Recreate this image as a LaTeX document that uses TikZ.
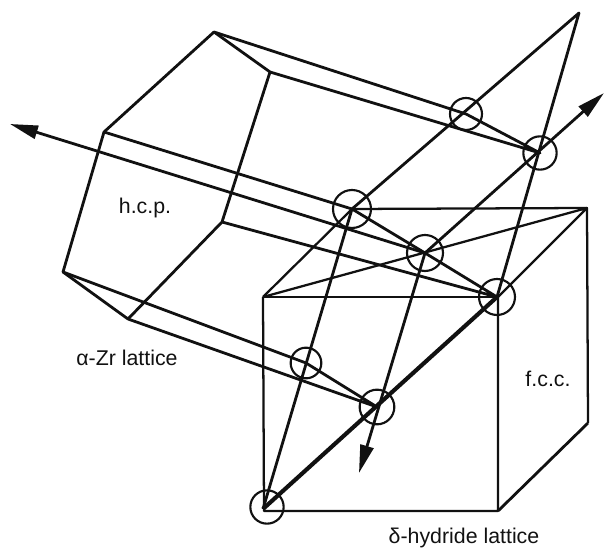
\documentclass[tikz,border=0pt]{standalone}
\usepackage{fontspec}
\setmainfont{Liberation Sans}
\usetikzlibrary{arrows.meta}
\definecolor{inkblack}{HTML}{111111}

\begin{document}
\begin{tikzpicture}[x=0.75pt,y=-0.75pt,>={Triangle[length=21pt, width=10pt]},
  atom/.style={draw=inkblack, circle, line width=1.6pt, inner sep=0pt, minimum size=#1},
  edge/.style={draw=inkblack, line width=2.1pt, line join=round},
  thin edge/.style={draw=inkblack, line width=1.7pt, line join=round},
  bold edge/.style={draw=inkblack, line width=3.1pt},
  lbl/.style={font=\fontsize{16pt}{18pt}\selectfont, text=inkblack}]

\useasboundingbox (0,0) rectangle (604,548);

% Atoms
\node[atom=24pt] (ca) at (466,114) {};
\node[atom=25pt] (cb) at (540,153) {};
\node[atom=28.5pt] (cc) at (352,209) {};
\node[atom=27pt] (cd) at (425,253) {};
\node[atom=27pt] (ce) at (497,297) {};
\node[atom=23pt] (cf) at (306,363) {};
\node[atom=26pt] (cg) at (377,407) {};
\node[atom=25pt] (ch) at (267,507) {};

% h.c.p. cell
\coordinate (h1) at (214,32);
\coordinate (h2) at (270,72);
\coordinate (h3) at (104,132);
\coordinate (h4) at (63,272);
\coordinate (h5) at (128,319);
\coordinate (h6) at (222,222);
\coordinate (apex) at (579,13);
\coordinate (foot) at (263,509);
\draw[edge] (h2) -- (h1) -- (h3) -- (h4) -- (h5) -- (h6) -- (h2);
\draw[edge] (h1) -- (ca.center) -- (cb.center) -- (h2);
\draw[edge] (h3) -- (cc.center) -- (cd.center) -- (ce.center) -- (h6);
\draw[edge] (h4) -- (cf.center) -- (cg.center) -- (h5);
\draw[edge] (cc.center) -- (apex) -- (ce.center);
\draw[edge] (cc.center) -- (foot);

% f.c.c. cell
\coordinate (f1) at (263,297);
\coordinate (f2) at (498,297);
\coordinate (f3) at (587,208);
\coordinate (f4) at (264,511);
\coordinate (f5) at (498,511);
\coordinate (f6) at (588,423);
\draw[thin edge] (f1) -- (f2);
\draw[thin edge] (f1) -- (f4) -- (f5) -- (f2);
\draw[edge] (f5) -- (f6);
\draw[thin edge] (f6) -- (f3) -- (cc.center) -- (f1);
\draw[thin edge] (f1) -- (f3) -- (f2);
\draw[bold edge] (foot) -- (ce.center);

% Axes
\coordinate (tipa) at (10,124);
\coordinate (tipb) at (604,93);
\coordinate (tipc) at (359,473);
\draw[->, edge] (cd.center) -- (tipa);
\draw[->, edge] (cd.center) -- (tipb);
\draw[->, edge] (cd.center) -- (tipc);

% Labels
\node[lbl] (hcp) at (145,208) {h.c.p.};
\node[lbl] (azr) at (127,358) {α-Zr lattice};
\node[lbl] (fcc) at (548,379) {f.c.c.};
\node[lbl] (dhl) at (464,538) {δ-hydride lattice};

\end{tikzpicture}
\end{document}
